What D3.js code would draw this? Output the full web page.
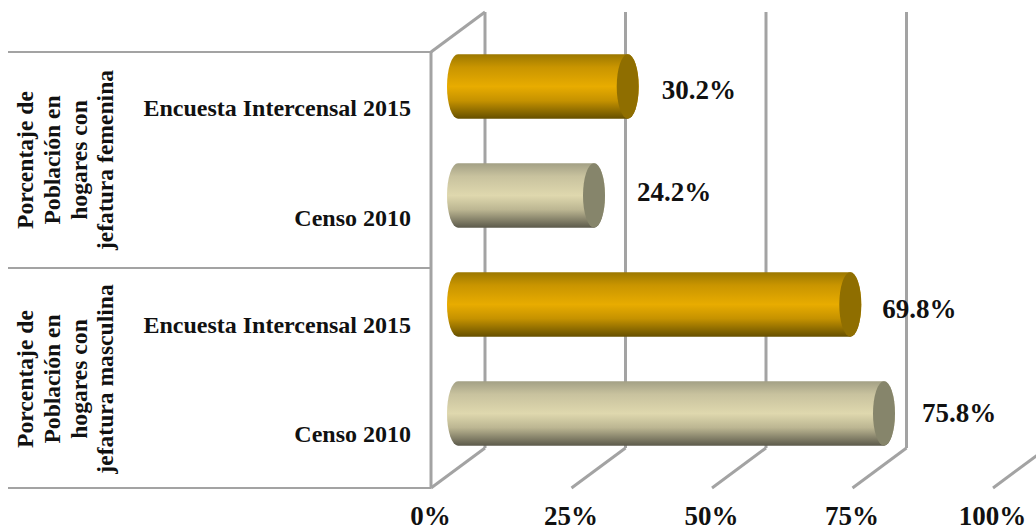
<!DOCTYPE html>
<html>
<head>
<meta charset="utf-8">
<script src="https://cdn.jsdelivr.net/npm/d3@7"></script>
<style>
  body {margin: 0; background: #fff;}
  text {font-family: "Liberation Serif", serif; font-weight: bold; fill: #111;}
</style>
</head>
<body>
<svg id="chart" width="1036" height="531"></svg>
<script>
// top to bottom, same order as the picture
const bars = ['f2015', 'f2010', 'm2015', 'm2010'];
const barLabels = ['Encuesta Intercensal 2015', 'Censo 2010', 'Encuesta Intercensal 2015', 'Censo 2010'];
const values = [30.2, 24.2, 69.8, 75.8];
const barKinds = ['gold', 'beige', 'gold', 'beige'];
const ticks = [0, 25, 50, 75, 100];
const groupTop = ['Porcentaje de', 'Población en', 'hogares con', 'jefatura femenina'];
const groupBottom = ['Porcentaje de', 'Población en', 'hogares con', 'jefatura masculina'];

const depth = {x: 54, y: -40};
const front = {left: 431, right: 993, top: 52, bottom: 488};
const capRx = 11;
const grey = '#a3a3a3';

const svg = d3.select('#chart');
const x = d3.scaleLinear().domain([0, 100]).range([front.left, front.right]);
// bars sit half way into the depth of the 3d box
const y = d3.scaleBand().domain(bars)
  .range([front.top + depth.y / 2, front.bottom + depth.y / 2])
  .paddingInner(0.41).paddingOuter(0.205);

const defs = svg.append('defs');
function addGradient(id, stops) {
  const g = defs.append('linearGradient').attr('id', id).attr('x1', 0).attr('x2', 0).attr('y1', 0).attr('y2', 1);
  stops.forEach(s => g.append('stop').attr('offset', s[0]).attr('stop-color', s[1]));
}
addGradient('gold', [[0, '#9c7800'], [0.2, '#c99500'], [0.5, '#e8ac00'], [0.72, '#c59200'], [1, '#665000']]);
addGradient('beige', [[0, '#a3a085'], [0.2, '#c8c29e'], [0.5, '#dfd8ae'], [0.72, '#bcb692'], [1, '#5c5a4b']]);
const capColor = {gold: '#8f6e00', beige: '#86856b'};

// walls: horizontal separators, front left edge, back grid, floor diagonals
const lines = svg.append('g').attr('stroke', grey).attr('fill', 'none');
[52, 268, 488].forEach(v => {
  lines.append('line').attr('x1', 8).attr('x2', front.left).attr('y1', v).attr('y2', v).attr('stroke-width', 2);
});
lines.append('line').attr('x1', front.left).attr('x2', front.left)
  .attr('y1', front.top).attr('y2', front.bottom).attr('stroke-width', 3);
lines.append('line').attr('x1', front.left).attr('y1', front.top)
  .attr('x2', front.left + depth.x).attr('y2', front.top + depth.y).attr('stroke-width', 3);
ticks.forEach(t => {
  lines.append('line').attr('x1', x(t) + depth.x).attr('x2', x(t) + depth.x)
    .attr('y1', front.top + depth.y).attr('y2', front.bottom + depth.y).attr('stroke-width', 3);
  lines.append('line').attr('x1', x(t)).attr('y1', front.bottom)
    .attr('x2', x(t) + depth.x).attr('y2', front.bottom + depth.y).attr('stroke-width', 3);
});

// cylinders
const barG = svg.append('g').selectAll('g').data(bars).join('g');
barG.append('path')
  .attr('d', (d, i) => {
    const x0 = x(0) + depth.x / 2, x1 = x(values[i]) + depth.x / 2;
    const t = y(d), b = y(d) + y.bandwidth(), ry = y.bandwidth() / 2;
    return `M${x0},${t}L${x1},${t}A${capRx},${ry} 0 0 1 ${x1},${b}L${x0},${b}A${capRx},${ry} 0 0 1 ${x0},${t}Z`;
  })
  .attr('fill', (d, i) => `url(#${barKinds[i]})`);
barG.append('ellipse')
  .attr('cx', (d, i) => x(values[i]) + depth.x / 2)
  .attr('cy', d => y(d) + y.bandwidth() / 2)
  .attr('rx', capRx)
  .attr('ry', y.bandwidth() / 2)
  .attr('fill', (d, i) => capColor[barKinds[i]]);

// value labels, the original has them hand placed
const labelDx = [34, 43, 32, 38];
const labelDy = [6, -1, 7, 2];
barG.append('text')
  .attr('x', (d, i) => x(values[i]) + depth.x / 2 + labelDx[i])
  .attr('y', (d, i) => y(d) + y.bandwidth() / 2 + labelDy[i])
  .attr('dominant-baseline', 'middle')
  .style('font-size', '27px')
  .text((d, i) => values[i].toFixed(1) + '%');

// category labels
const catDy = [29, 30, 28, 28];
barG.append('text')
  .attr('x', 411)
  .attr('y', (d, i) => y(d) + y.bandwidth() / 2 + catDy[i])
  .attr('text-anchor', 'end')
  .style('font-size', '24px')
  .text((d, i) => barLabels[i]);

// rotated group labels
const lineX = [33, 60, 87, 113];
function groupLabel(lines, cy) {
  svg.append('g').selectAll('text').data(lines).join('text')
    .attr('transform', (d, i) => `translate(${lineX[i]},${cy}) rotate(-90)`)
    .attr('text-anchor', 'middle')
    .style('font-size', '23.6px')
    .text(d => d);
}
groupLabel(groupTop, 160);
groupLabel(groupBottom, 379);

// x axis labels
const axis = d3.axisBottom(x).tickValues(ticks).tickSize(0).tickPadding(0).tickFormat(d => d + '%');
const axisG = svg.append('g').attr('transform', 'translate(-1,505.5)').call(axis);
axisG.select('.domain').remove();
axisG.selectAll('text').attr('fill', null).style('font-size', '27px').style('font-family', null);
</script>
</body>
</html>
